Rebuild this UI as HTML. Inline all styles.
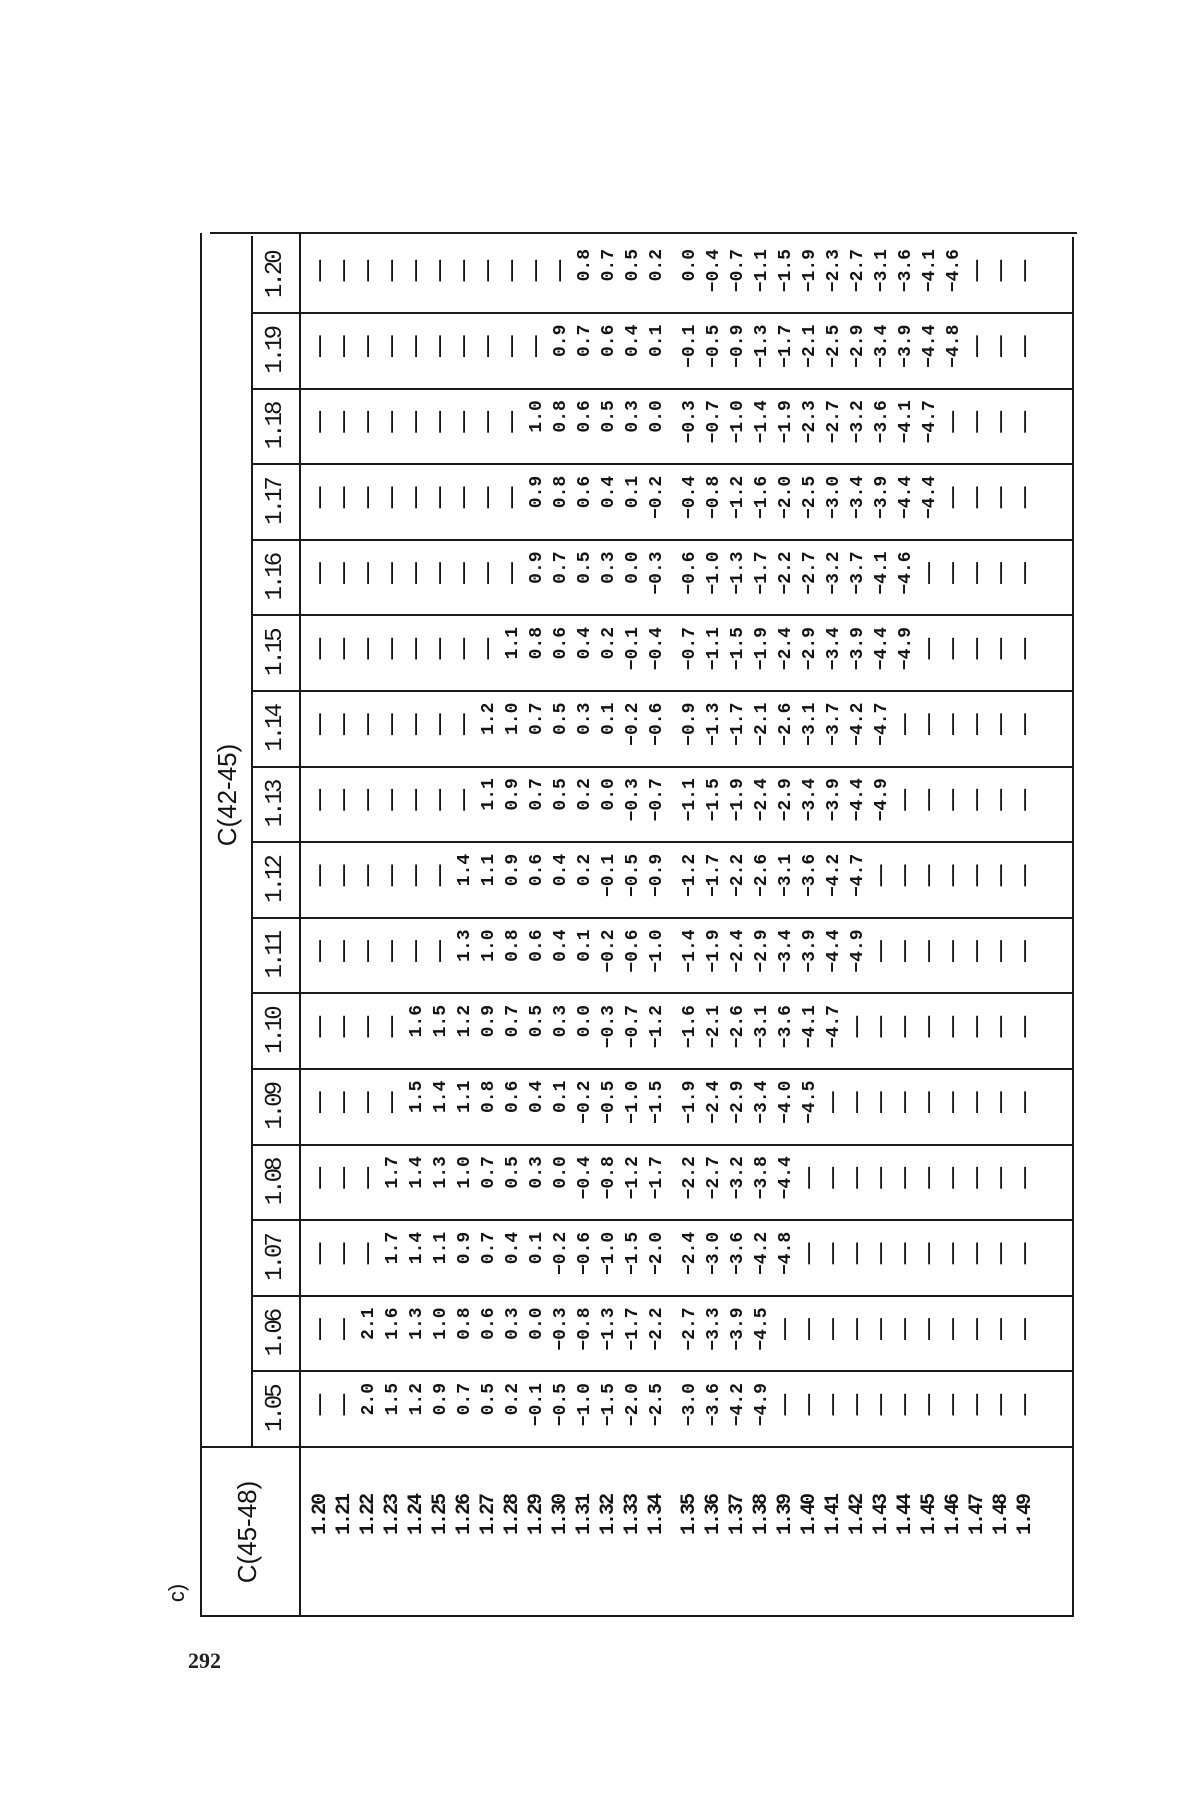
<!DOCTYPE html>
<html><head><meta charset="utf-8">
<style>
html,body{margin:0;padding:0;background:#fff;}
body{width:1200px;height:1800px;position:relative;overflow:hidden;}
#t{position:absolute;left:201px;top:1617px;width:1384px;height:872px;transform-origin:0 0;transform:rotate(-90deg);color:#141414;}
.h{position:absolute;height:2px;background:#1a1a1a;}
.v{position:absolute;width:2px;background:#1a1a1a;}
.c{position:absolute;width:64px;text-align:right;white-space:pre;font:bold 18px/24px "Liberation Mono",monospace;letter-spacing:0;}
.hd{position:absolute;top:60px;width:75.6px;text-align:center;font:24px/30px "Liberation Mono",monospace;letter-spacing:-3px;}
.rl{position:absolute;left:0;width:122px;text-align:right;white-space:pre;font:bold 20px/24px "Liberation Mono",monospace;letter-spacing:-2px;}
.lb{position:absolute;text-align:center;font:26px/32px "Liberation Sans",sans-serif;white-space:nowrap;}
</style></head><body>
<div id="t">
<div class="v" style="left:0;top:0;height:872px;"></div>
<div class="h" style="left:0;top:-1px;width:1384px;"></div>
<div class="h" style="left:0;top:871px;width:1380px;"></div>
<div class="v" style="left:1383px;top:9px;height:867px;"></div>
<div class="h" style="left:0;top:98px;width:1384px;"></div>
<div class="h" style="left:170px;top:50px;width:1211px;"></div>
<div class="v" style="left:169px;top:0;height:872px;"></div>
<div class="v" style="left:245px;top:51px;height:821px;"></div>
<div class="v" style="left:320px;top:51px;height:821px;"></div>
<div class="v" style="left:396px;top:51px;height:821px;"></div>
<div class="v" style="left:471px;top:51px;height:821px;"></div>
<div class="v" style="left:547px;top:51px;height:821px;"></div>
<div class="v" style="left:623px;top:51px;height:821px;"></div>
<div class="v" style="left:698px;top:51px;height:821px;"></div>
<div class="v" style="left:774px;top:51px;height:821px;"></div>
<div class="v" style="left:849px;top:51px;height:821px;"></div>
<div class="v" style="left:925px;top:51px;height:821px;"></div>
<div class="v" style="left:1001px;top:51px;height:821px;"></div>
<div class="v" style="left:1076px;top:51px;height:821px;"></div>
<div class="v" style="left:1152px;top:51px;height:821px;"></div>
<div class="v" style="left:1227px;top:51px;height:821px;"></div>
<div class="v" style="left:1303px;top:51px;height:821px;"></div>

<div class="lb" style="left:-6px;top:-40px;width:60px;font-size:22px;">c)</div>
<div class="lb" style="left:20px;top:30px;width:130px;">C(45-48)</div>
<div class="lb" style="left:722px;top:10px;width:200px;">C(42-45)</div>

<div class="hd" style="left:170px">1.05</div>
<div class="hd" style="left:245.6px">1.06</div>
<div class="hd" style="left:321.2px">1.07</div>
<div class="hd" style="left:396.8px">1.08</div>
<div class="hd" style="left:472.4px">1.09</div>
<div class="hd" style="left:548px">1.10</div>
<div class="hd" style="left:623.6px">1.11</div>
<div class="hd" style="left:699.2px">1.12</div>
<div class="hd" style="left:774.8px">1.13</div>
<div class="hd" style="left:850.4px">1.14</div>
<div class="hd" style="left:926px">1.15</div>
<div class="hd" style="left:1001.6px">1.16</div>
<div class="hd" style="left:1077.2px">1.17</div>
<div class="hd" style="left:1152.8px">1.18</div>
<div class="hd" style="left:1228.4px">1.19</div>
<div class="hd" style="left:1304px">1.20</div>

<div class="rl" style="top:108px">1.20
1.21
1.22
1.23
1.24
1.25
1.26
1.27
1.28
1.29
1.30
1.31
1.32
1.33
1.34</div>
<div class="rl" style="top:477px">1.35
1.36
1.37
1.38
1.39
1.40
1.41
1.42
1.43
1.44
1.45
1.46
1.47
1.48
1.49</div>

<div class="c" style="left:170px;top:108px">—— 
—— 
2.0
1.5
1.2
0.9
0.7
0.5
0.2
−0.1
−0.5
−1.0
−1.5
−2.0
−2.5</div>
<div class="c" style="left:170px;top:477px">−3.0
−3.6
−4.2
−4.9
—— 
—— 
—— 
—— 
—— 
—— 
—— 
—— 
—— 
—— 
—— </div>
<div class="c" style="left:245.6px;top:108px">—— 
—— 
2.1
1.6
1.3
1.0
0.8
0.6
0.3
0.0
−0.3
−0.8
−1.3
−1.7
−2.2</div>
<div class="c" style="left:245.6px;top:477px">−2.7
−3.3
−3.9
−4.5
—— 
—— 
—— 
—— 
—— 
—— 
—— 
—— 
—— 
—— 
—— </div>
<div class="c" style="left:321.2px;top:108px">—— 
—— 
—— 
1.7
1.4
1.1
0.9
0.7
0.4
0.1
−0.2
−0.6
−1.0
−1.5
−2.0</div>
<div class="c" style="left:321.2px;top:477px">−2.4
−3.0
−3.6
−4.2
−4.8
—— 
—— 
—— 
—— 
—— 
—— 
—— 
—— 
—— 
—— </div>
<div class="c" style="left:396.8px;top:108px">—— 
—— 
—— 
1.7
1.4
1.3
1.0
0.7
0.5
0.3
0.0
−0.4
−0.8
−1.2
−1.7</div>
<div class="c" style="left:396.8px;top:477px">−2.2
−2.7
−3.2
−3.8
−4.4
—— 
—— 
—— 
—— 
—— 
—— 
—— 
—— 
—— 
—— </div>
<div class="c" style="left:472.4px;top:108px">—— 
—— 
—— 
—— 
1.5
1.4
1.1
0.8
0.6
0.4
0.1
−0.2
−0.5
−1.0
−1.5</div>
<div class="c" style="left:472.4px;top:477px">−1.9
−2.4
−2.9
−3.4
−4.0
−4.5
—— 
—— 
—— 
—— 
—— 
—— 
—— 
—— 
—— </div>
<div class="c" style="left:548px;top:108px">—— 
—— 
—— 
—— 
1.6
1.5
1.2
0.9
0.7
0.5
0.3
0.0
−0.3
−0.7
−1.2</div>
<div class="c" style="left:548px;top:477px">−1.6
−2.1
−2.6
−3.1
−3.6
−4.1
−4.7
—— 
—— 
—— 
—— 
—— 
—— 
—— 
—— </div>
<div class="c" style="left:623.6px;top:108px">—— 
—— 
—— 
—— 
—— 
—— 
1.3
1.0
0.8
0.6
0.4
0.1
−0.2
−0.6
−1.0</div>
<div class="c" style="left:623.6px;top:477px">−1.4
−1.9
−2.4
−2.9
−3.4
−3.9
−4.4
−4.9
—— 
—— 
—— 
—— 
—— 
—— 
—— </div>
<div class="c" style="left:699.2px;top:108px">—— 
—— 
—— 
—— 
—— 
—— 
1.4
1.1
0.9
0.6
0.4
0.2
−0.1
−0.5
−0.9</div>
<div class="c" style="left:699.2px;top:477px">−1.2
−1.7
−2.2
−2.6
−3.1
−3.6
−4.2
−4.7
—— 
—— 
—— 
—— 
—— 
—— 
—— </div>
<div class="c" style="left:774.8px;top:108px">—— 
—— 
—— 
—— 
—— 
—— 
—— 
1.1
0.9
0.7
0.5
0.2
0.0
−0.3
−0.7</div>
<div class="c" style="left:774.8px;top:477px">−1.1
−1.5
−1.9
−2.4
−2.9
−3.4
−3.9
−4.4
−4.9
—— 
—— 
—— 
—— 
—— 
—— </div>
<div class="c" style="left:850.4px;top:108px">—— 
—— 
—— 
—— 
—— 
—— 
—— 
1.2
1.0
0.7
0.5
0.3
0.1
−0.2
−0.6</div>
<div class="c" style="left:850.4px;top:477px">−0.9
−1.3
−1.7
−2.1
−2.6
−3.1
−3.7
−4.2
−4.7
—— 
—— 
—— 
—— 
—— 
—— </div>
<div class="c" style="left:926px;top:108px">—— 
—— 
—— 
—— 
—— 
—— 
—— 
—— 
1.1
0.8
0.6
0.4
0.2
−0.1
−0.4</div>
<div class="c" style="left:926px;top:477px">−0.7
−1.1
−1.5
−1.9
−2.4
−2.9
−3.4
−3.9
−4.4
−4.9
—— 
—— 
—— 
—— 
—— </div>
<div class="c" style="left:1001.6px;top:108px">—— 
—— 
—— 
—— 
—— 
—— 
—— 
—— 
—— 
0.9
0.7
0.5
0.3
0.0
−0.3</div>
<div class="c" style="left:1001.6px;top:477px">−0.6
−1.0
−1.3
−1.7
−2.2
−2.7
−3.2
−3.7
−4.1
−4.6
—— 
—— 
—— 
—— 
—— </div>
<div class="c" style="left:1077.2px;top:108px">—— 
—— 
—— 
—— 
—— 
—— 
—— 
—— 
—— 
0.9
0.8
0.6
0.4
0.1
−0.2</div>
<div class="c" style="left:1077.2px;top:477px">−0.4
−0.8
−1.2
−1.6
−2.0
−2.5
−3.0
−3.4
−3.9
−4.4
−4.4
—— 
—— 
—— 
—— </div>
<div class="c" style="left:1152.8px;top:108px">—— 
—— 
—— 
—— 
—— 
—— 
—— 
—— 
—— 
1.0
0.8
0.6
0.5
0.3
0.0</div>
<div class="c" style="left:1152.8px;top:477px">−0.3
−0.7
−1.0
−1.4
−1.9
−2.3
−2.7
−3.2
−3.6
−4.1
−4.7
—— 
—— 
—— 
—— </div>
<div class="c" style="left:1228.4px;top:108px">—— 
—— 
—— 
—— 
—— 
—— 
—— 
—— 
—— 
—— 
0.9
0.7
0.6
0.4
0.1</div>
<div class="c" style="left:1228.4px;top:477px">−0.1
−0.5
−0.9
−1.3
−1.7
−2.1
−2.5
−2.9
−3.4
−3.9
−4.4
−4.8
—— 
—— 
—— </div>
<div class="c" style="left:1304px;top:108px">—— 
—— 
—— 
—— 
—— 
—— 
—— 
—— 
—— 
—— 
—— 
0.8
0.7
0.5
0.2</div>
<div class="c" style="left:1304px;top:477px">0.0
−0.4
−0.7
−1.1
−1.5
−1.9
−2.3
−2.7
−3.1
−3.6
−4.1
−4.6
—— 
—— 
—— </div>
</div>
<div style="position:absolute;left:188px;top:1648px;font:bold 22px/26px 'Liberation Serif',serif;color:#222;">292</div>
</body></html>
